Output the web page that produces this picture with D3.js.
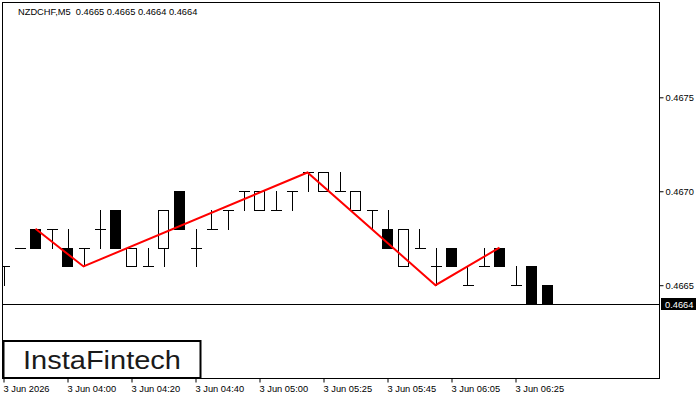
<!DOCTYPE html>
<html>
<head>
<meta charset="utf-8">
<script src="https://cdn.jsdelivr.net/npm/d3@7"></script>
<style>
  html, body { margin: 0; padding: 0; background: #fff; }
  svg { display: block; }
  text { font-family: "Liberation Sans", Arial, sans-serif; }
</style>
</head>
<body>
<svg id="chart" width="700" height="400"></svg>
<script>
// ---- data ----
const opens  = [0.4666,0.4667,0.4668,0.4668,0.4667,0.4667,0.4668,0.4669,0.4666,0.4666,0.4667,0.4670,0.4667,0.4668,0.4669,0.4670,0.4669,0.4669,0.4670,0.4671,0.4670,0.4670,0.4669,0.4669,0.4668,0.4666,0.4667,0.4666,0.4667,0.4665,0.4666,0.4667,0.4665,0.4666,0.4665];
const highs  = [0.4666,0.4667,0.4668,0.4668,0.4668,0.4667,0.4669,0.4669,0.4667,0.4667,0.4669,0.4670,0.4668,0.4669,0.4669,0.4670,0.4670,0.4670,0.4670,0.4671,0.4671,0.4671,0.4670,0.4669,0.4669,0.4668,0.4668,0.4667,0.4667,0.4666,0.4667,0.4667,0.4666,0.4666,0.4665];
const lows   = [0.4665,0.4667,0.4667,0.4667,0.4666,0.4666,0.4667,0.4667,0.4666,0.4666,0.4666,0.4668,0.4666,0.4668,0.4668,0.4669,0.4669,0.4669,0.4669,0.4670,0.4670,0.4670,0.4669,0.4668,0.4667,0.4666,0.4667,0.4665,0.4666,0.4665,0.4666,0.4666,0.4665,0.4664,0.4664];
const closes = [0.4666,0.4667,0.4667,0.4668,0.4666,0.4667,0.4668,0.4667,0.4667,0.4666,0.4669,0.4668,0.4667,0.4668,0.4669,0.4670,0.4670,0.4669,0.4670,0.4671,0.4671,0.4670,0.4670,0.4669,0.4667,0.4668,0.4667,0.4666,0.4666,0.4665,0.4666,0.4666,0.4665,0.4664,0.4664];

const patternIdx    = [2, 5, 19, 27, 31];
const patternPrices = [0.4668, 0.4666, 0.4671, 0.4665, 0.4667];

const timeTickIdx    = [0, 4, 8, 12, 16, 20, 24, 28, 32];
const timeTickLabels = ["3 Jun 2026","3 Jun 04:00","3 Jun 04:20","3 Jun 04:40","3 Jun 05:00","3 Jun 05:25","3 Jun 05:45","3 Jun 06:05","3 Jun 06:25"];
const priceTicks     = [0.4665, 0.4670, 0.4675];
const lastPrice      = 0.4664;
const titleText      = "NZDCHF,M5  0.4665 0.4665 0.4664 0.4664";

// ---- layout ----
const plotL = 2.5, plotR = 659.5, plotT = 2.5, plotB = 378.5;
const svg = d3.select("#chart");

const x = d3.scaleLinear().domain([0, 34]).range([3.5, 547.5]);
const y = d3.scaleLinear().domain([0.4664, 0.4675]).range([304, 97.3]);
const bodyW = 11;

svg.append("defs").append("clipPath").attr("id","plotClip")
  .append("rect").attr("x", plotL).attr("y", plotT).attr("width", plotR - plotL).attr("height", plotB - plotT);

const candles = opens.map((o,i)=>({i, o, h: highs[i], l: lows[i], c: closes[i]}));

const g = svg.append("g").attr("clip-path","url(#plotClip)");

// last price line
g.append("line")
  .attr("x1", plotL).attr("x2", plotR)
  .attr("y1", Math.round(y(lastPrice)) + 0.5).attr("y2", Math.round(y(lastPrice)) + 0.5)
  .attr("stroke", "#000").attr("stroke-width", 1);

const cg = g.selectAll("g.candle").data(candles).join("g").attr("class","candle");
const px = v => Math.round(v) + 0.5;

// wicks
cg.append("line")
  .attr("x1", d => px(x(d.i))).attr("x2", d => px(x(d.i)))
  .attr("y1", d => Math.round(y(d.h))).attr("y2", d => Math.round(y(d.l)) + 1)
  .attr("stroke", "#000").attr("stroke-width", 1).attr("shape-rendering","crispEdges");

// bodies
cg.each(function(d){
  const sel = d3.select(this);
  const top = Math.round(y(Math.max(d.o, d.c)));
  const bot = Math.round(y(Math.min(d.o, d.c)));
  const left = Math.round(x(d.i) - bodyW/2) + 0.5;
  if (top === bot) {
    sel.append("line")
      .attr("x1", left).attr("x2", left + bodyW)
      .attr("y1", top + 0.5).attr("y2", top + 0.5)
      .attr("stroke", "#000").attr("stroke-width", 1).attr("shape-rendering","crispEdges");
  } else {
    sel.append("rect")
      .attr("x", left).attr("y", top + 0.5)
      .attr("width", bodyW - 1).attr("height", bot - top)
      .attr("fill", d.c < d.o ? "#000" : "#fff")
      .attr("stroke", "#000").attr("stroke-width", 1).attr("shape-rendering","crispEdges");
  }
});

// pattern line
const line = d3.line().x(d => x(d[0])).y(d => y(d[1]));
g.append("path")
  .datum(patternIdx.map((k,j)=>[k, patternPrices[j]]))
  .attr("d", line)
  .attr("fill","none").attr("stroke","#ff0000").attr("stroke-width", 2);

// frame
svg.append("rect")
  .attr("x", plotL).attr("y", plotT).attr("width", plotR - plotL).attr("height", plotB - plotT)
  .attr("fill","none").attr("stroke","#000").attr("stroke-width",1);

// right price axis
const yAxis = d3.axisRight(y).tickValues(priceTicks).tickSize(4).tickPadding(2).tickFormat(d3.format(".4f"));
const ya = svg.append("g").attr("transform", `translate(${plotR},0)`).call(yAxis);
ya.select(".domain").remove();
ya.selectAll("text").attr("font-size", "9.3px").attr("fill","#000").attr("font-family","Liberation Sans, Arial, sans-serif");
ya.selectAll("line").attr("stroke","#000");

// last price tag
const ly = y(lastPrice);
svg.append("rect").attr("x", 661).attr("y", ly - 6).attr("width", 35).attr("height", 12).attr("fill","#000");
svg.append("text").attr("x", 665).attr("y", ly + 3.5).attr("fill","#fff")
  .attr("font-size","9.3px").text(d3.format(".4f")(lastPrice));

// bottom time axis
const xAxis = d3.axisBottom(x).tickValues(timeTickIdx).tickSize(4).tickPadding(3)
  .tickFormat((d,k) => timeTickLabels[k]);
const xa = svg.append("g").attr("transform", `translate(0,${plotB})`).call(xAxis);
xa.select(".domain").remove();
xa.selectAll("line").attr("stroke","#000");
xa.selectAll("text").attr("text-anchor","start").attr("dx", "-0.5")
  .attr("font-size","9.3px").attr("fill","#000").attr("font-family","Liberation Sans, Arial, sans-serif");

// title
svg.append("text").attr("x", 18).attr("y", 15).attr("font-size","9.3px").attr("fill","#000")
  .attr("xml:space","preserve").style("white-space","pre").text(titleText);

// logo
svg.append("rect").attr("x", 3.5).attr("y", 341).attr("width", 197).attr("height", 37)
  .attr("fill","#fff").attr("stroke","#000").attr("stroke-width",2);
svg.append("text").attr("x", 23).attr("y", 369)
  .attr("font-family","Lato, 'Open Sans', sans-serif").attr("font-weight", 500)
  .attr("font-size","26px").attr("fill","#1a1a1a")
  .attr("textLength", 158).attr("lengthAdjust","spacingAndGlyphs")
  .text("InstaFintech");
</script>
</body>
</html>
